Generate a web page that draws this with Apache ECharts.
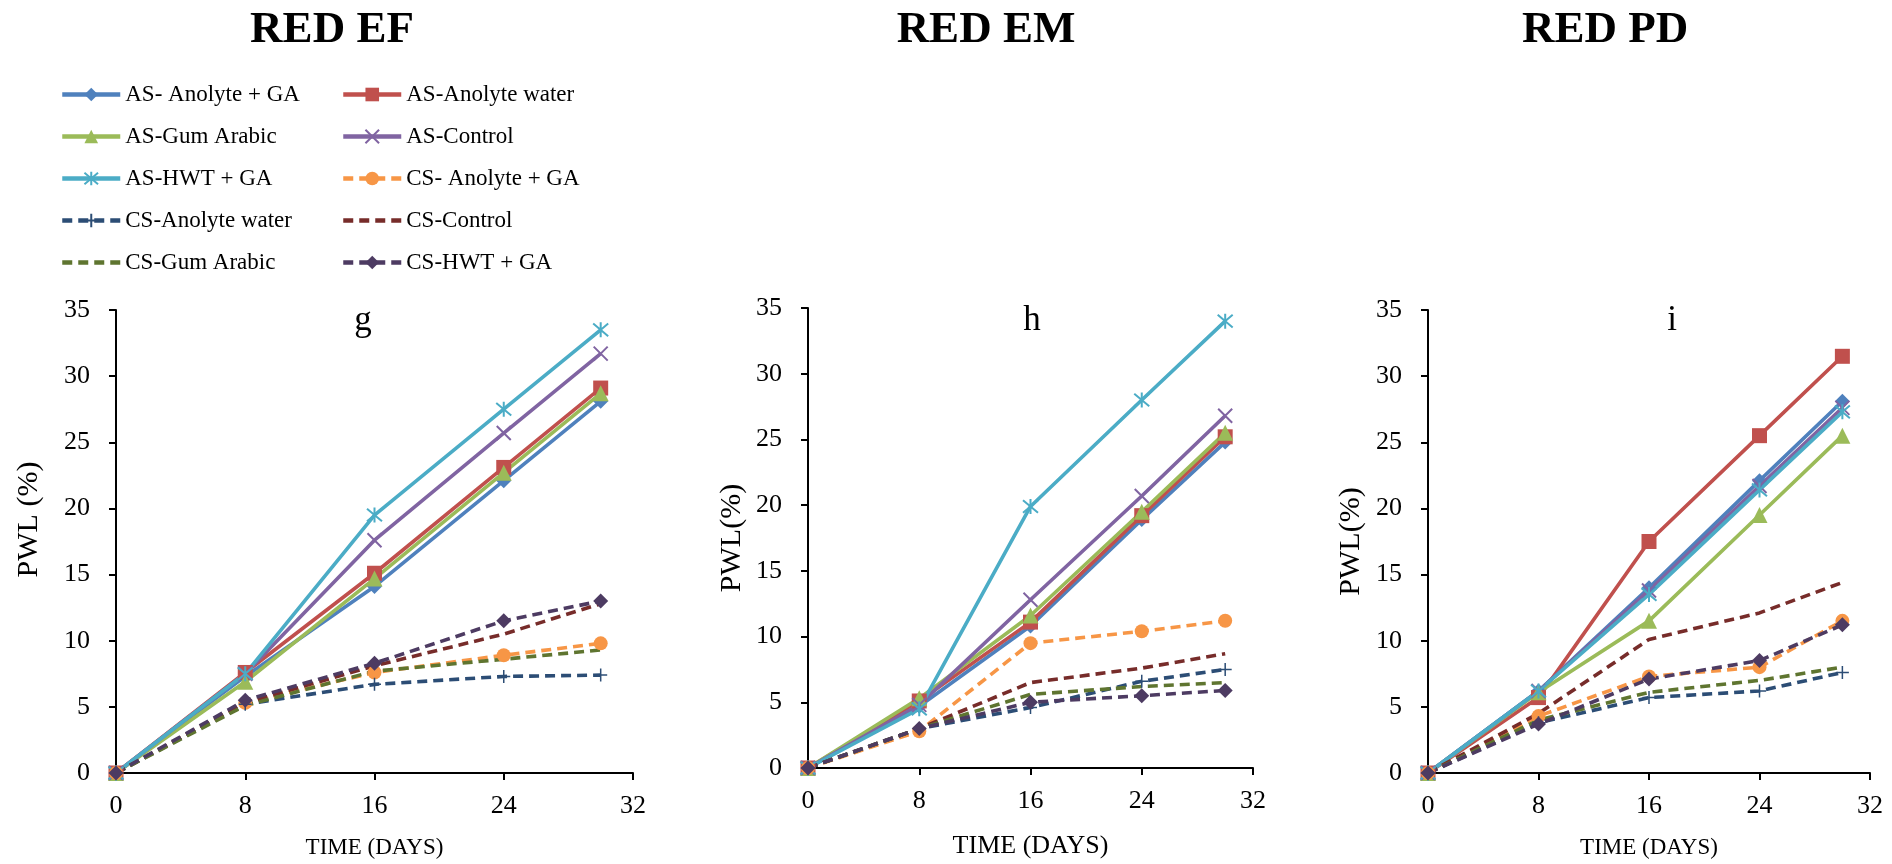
<!DOCTYPE html>
<html>
<head>
<meta charset="utf-8">
<title>PWL over storage time</title>
<script src="https://cdn.jsdelivr.net/npm/echarts@6/dist/echarts.min.js"></script>
<style>
  html, body { margin: 0; padding: 0; background: #fff; }
  #chart { width: 1892px; height: 864px; }
</style>
</head>
<body>
<div id="chart"></div>
<script>
// Sampling days (x values shared by every series)
const days = [0, 8, 16, 24, 30];

// Treatment names, in legend order
const seriesNames = [
  'AS- Anolyte + GA', 'AS-Anolyte water',
  'AS-Gum Arabic', 'AS-Control',
  'AS-HWT + GA', 'CS- Anolyte + GA',
  'CS-Anolyte water', 'CS-Control',
  'CS-Gum Arabic', 'CS-HWT + GA'
];

// Axis ticks
const xTicks = { min: 0, max: 32, step: 8 };
const yTicks = { min: 0, max: 35, step: 5 };

// RED EF (g) – PWL (%)
const efAsAnolyteGA    = [0, 7.3, 14.1, 22.1, 28.1];
const efAsAnolyteWater = [0, 7.6, 15.1, 23.1, 29.1];
const efAsGumArabic    = [0, 6.9, 14.7, 22.7, 28.7];
const efAsControl      = [0, 7.5, 17.6, 25.7, 31.7];
const efAsHwtGA        = [0, 7.5, 19.5, 27.5, 33.5];
const efCsAnolyteGA    = [0, 5.3, 7.6, 8.9, 9.8];
const efCsAnolyteWater = [0, 5.2, 6.7, 7.3, 7.4];
const efCsControl      = [0, 5.3, 8.1, 10.5, 12.8];
const efCsGumArabic    = [0, 5.1, 7.7, 8.6, 9.3];
const efCsHwtGA        = [0, 5.5, 8.3, 11.5, 13.0];

// RED EM (h) – PWL (%)
const emAsAnolyteGA    = [0, 4.7, 10.8, 18.9, 24.8];
const emAsAnolyteWater = [0, 5.1, 11.1, 19.2, 25.2];
const emAsGumArabic    = [0, 5.3, 11.6, 19.5, 25.5];
const emAsControl      = [0, 4.8, 12.8, 20.7, 26.8];
const emAsHwtGA        = [0, 4.5, 19.9, 28.0, 34.0];
const emCsAnolyteGA    = [0, 2.8, 9.5, 10.4, 11.2];
const emCsAnolyteWater = [0, 3.0, 4.6, 6.6, 7.5];
const emCsControl      = [0, 3.0, 6.5, 7.6, 8.7];
const emCsGumArabic    = [0, 3.0, 5.6, 6.2, 6.5];
const emCsHwtGA        = [0, 3.0, 5.0, 5.5, 5.9];

// RED PD (i) – PWL (%)
const pdAsAnolyteGA    = [0, 6.2, 14.0, 22.1, 28.1];
const pdAsAnolyteWater = [0, 5.7, 17.5, 25.5, 31.5];
const pdAsGumArabic    = [0, 6.1, 11.5, 19.5, 25.5];
const pdAsControl      = [0, 6.2, 13.8, 21.7, 27.6];
const pdAsHwtGA        = [0, 6.2, 13.5, 21.4, 27.3];
const pdCsAnolyteGA    = [0, 4.3, 7.3, 8.0, 11.5];
const pdCsAnolyteWater = [0, 3.8, 5.7, 6.2, 7.6];
const pdCsControl      = [0, 4.5, 10.1, 12.1, 14.4];
const pdCsGumArabic    = [0, 4.0, 6.1, 7.0, 8.0];
const pdCsHwtGA        = [0, 3.7, 7.1, 8.5, 11.2];

const panelData = [
  [efAsAnolyteGA, efAsAnolyteWater, efAsGumArabic, efAsControl, efAsHwtGA,
   efCsAnolyteGA, efCsAnolyteWater, efCsControl, efCsGumArabic, efCsHwtGA],
  [emAsAnolyteGA, emAsAnolyteWater, emAsGumArabic, emAsControl, emAsHwtGA,
   emCsAnolyteGA, emCsAnolyteWater, emCsControl, emCsGumArabic, emCsHwtGA],
  [pdAsAnolyteGA, pdAsAnolyteWater, pdAsGumArabic, pdAsControl, pdAsHwtGA,
   pdCsAnolyteGA, pdCsAnolyteWater, pdCsControl, pdCsGumArabic, pdCsHwtGA]
];

const panelTitles = ['RED EF', 'RED EM', 'RED PD'];
const panelLetters = ['g', 'h', 'i'];
const yNames = ['PWL (%)', 'PWL(%)', 'PWL(%)'];
const xName = 'TIME (DAYS)';

// ---- styling ----
const FONT = '"Liberation Serif", "Times New Roman", serif';
const SYM_X = 'path://M0,0L10,10M10,0L0,10';
const SYM_STAR = 'path://M5,0L5,10M0.8,0.8L9.2,9.2M9.2,0.8L0.8,9.2';
const SYM_PLUS = 'path://M5,0L5,10M0,5L10,5';

const seriesLook = [
  { color: '#4F81BD', dash: 'solid', symbol: 'diamond', size: 15 },
  { color: '#C0504D', dash: 'solid', symbol: 'rect', size: 15 },
  { color: '#9BBB59', dash: 'solid', symbol: 'triangle', size: 16 },
  { color: '#8064A2', dash: 'solid', symbol: SYM_X, size: 14, stroke: 2 },
  { color: '#4BACC6', dash: 'solid', symbol: SYM_STAR, size: 15, stroke: 2 },
  { color: '#F79646', dash: [10, 6], symbol: 'circle', size: 14 },
  { color: '#2C4D75', dash: [10, 6], symbol: SYM_PLUS, size: 13, stroke: 1.5 },
  { color: '#772C2A', dash: [10, 6], symbol: 'none', size: 0 },
  { color: '#5F7530', dash: [10, 6], symbol: 'none', size: 0 },
  { color: '#4D3B62', dash: [10, 6], symbol: 'diamond', size: 15 }
];

// plot rectangles and label sizes for each panel
const grids = [
  { left: 116, top: 310, width: 517, height: 466 },
  { left: 808, top: 308, width: 445, height: 461 },
  { left: 1428, top: 310, width: 442, height: 466 }
];
const xNameSize = [23, 26, 23];
const xNameGap = [63, 65, 63];
const yNameGap = [72, 61, 62];
const yNameShift = [44, 0, 0];
const titlePos = [332, 986, 1605];
const letterPos = [[363, 321], [1032, 321], [1672, 321]];

const axisLineStyle = { color: '#000', width: 2 };

const xAxes = grids.map((g, i) => ({
  type: 'value', gridIndex: i,
  min: xTicks.min, max: xTicks.max, interval: xTicks.step,
  axisLine: { show: true, lineStyle: axisLineStyle },
  axisTick: { show: true, inside: false, length: 7, lineStyle: axisLineStyle },
  splitLine: { show: false },
  axisLabel: { color: '#000', fontFamily: FONT, fontSize: 26, margin: 20 },
  name: xName, nameLocation: 'middle', nameGap: xNameGap[i],
  nameTextStyle: { color: '#000', fontFamily: FONT, fontSize: xNameSize[i] }
}));

const yAxes = grids.map((g, i) => ({
  type: 'value', gridIndex: i,
  min: yTicks.min, max: yTicks.max, interval: yTicks.step,
  axisLine: { show: true, lineStyle: axisLineStyle },
  axisTick: { show: true, inside: false, length: 7, lineStyle: axisLineStyle },
  splitLine: { show: false },
  axisLabel: { color: '#000', fontFamily: FONT, fontSize: 26, margin: 26 },
  name: yNames[i], nameLocation: 'middle', nameGap: yNameGap[i], nameRotate: 90,
  nameTextStyle: { color: '#000', fontFamily: FONT, fontSize: 30,
                   padding: [0, 0, 0, yNameShift[i]] }
}));

const series = [];
panelData.forEach((rows, p) => {
  rows.forEach((vals, k) => {
    const look = seriesLook[k];
    const noMarker = look.symbol === 'none';
    series.push({
      type: 'line',
      name: seriesNames[k],
      xAxisIndex: p, yAxisIndex: p,
      data: days.map((d, j) => [d, vals[j]]),
      symbol: look.symbol,
      symbolSize: look.size,
      showSymbol: !noMarker,
      lineStyle: { color: look.color, width: 3.6, type: look.dash },
      itemStyle: look.stroke
        ? { color: look.color, borderColor: look.color, borderWidth: look.stroke }
        : { color: look.color, borderWidth: 0, opacity: noMarker ? 0 : 1 },
      emphasis: { disabled: true },
      animation: false
    });
  });
});

const legendCommon = {
  orient: 'vertical',
  top: 83,
  itemWidth: 58,
  itemHeight: 17,
  itemGap: 19,
  padding: 0,
  lineStyle: { width: 4.5 },
  textStyle: { color: '#000', fontFamily: FONT, fontSize: 23 }
};

const graphics = [];
panelTitles.forEach((t, i) => {
  graphics.push({
    type: 'text', x: titlePos[i], y: 30,
    style: { text: t, fill: '#000', fontFamily: FONT, fontWeight: 'bold', fontSize: 45,
             align: 'center', verticalAlign: 'middle' }
  });
  graphics.push({
    type: 'text', x: letterPos[i][0], y: letterPos[i][1],
    style: { text: panelLetters[i], fill: '#000', fontFamily: FONT, fontSize: 35,
             align: 'center', verticalAlign: 'middle' }
  });
});

const chart = echarts.init(document.getElementById('chart'), null, { renderer: 'canvas' });
chart.setOption({
  backgroundColor: '#fff',
  animation: false,
  grid: grids.map(g => Object.assign({ containLabel: false }, g)),
  xAxis: xAxes,
  yAxis: yAxes,
  legend: [
    Object.assign({}, legendCommon, { left: 60, data: seriesNames.filter((_, i) => i % 2 === 0) }),
    Object.assign({}, legendCommon, { left: 341, data: seriesNames.filter((_, i) => i % 2 === 1) })
  ],
  graphic: graphics,
  series: series
});
</script>
</body>
</html>
